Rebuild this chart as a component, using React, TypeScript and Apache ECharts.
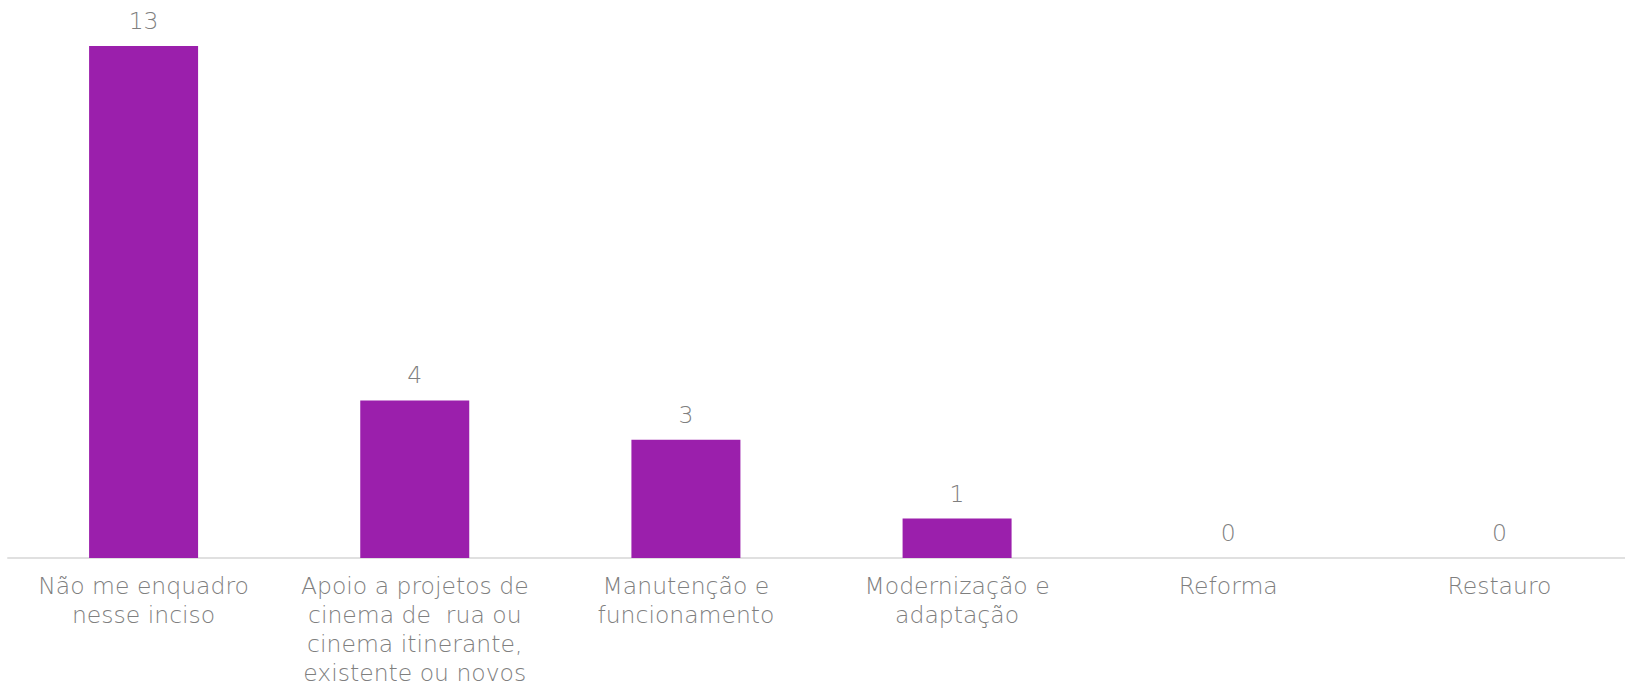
import React, { useEffect, useRef } from "react";
import * as echarts from "echarts";

const categories = [
  "Não me enquadro\nnesse inciso",
  "Apoio a projetos de\ncinema de  rua ou\ncinema itinerante,\nexistente ou novos",
  "Manutenção e\nfuncionamento",
  "Modernização e\nadaptação",
  "Reforma",
  "Restauro",
];
const values = [13, 4, 3, 1, 0, 0];

const TEXT = "#7f7f7f";
const FONT = "'DejaVu Sans', sans-serif";

export default function App() {
  const ref = useRef<HTMLDivElement>(null);
  useEffect(() => {
    document.body.style.margin = "0";
    const chart = echarts.init(ref.current!, null, { renderer: "svg" });
    chart.setOption({
      animation: false,
      grid: {
        left: 8,
        right: -10,
        top: 46,
        bottom: 128,
        containLabel: false,
        outerBoundsMode: "none",
      },
      xAxis: {
        type: "category",
        data: categories,
        axisLine: { show: true, lineStyle: { color: "#e0e0e0", width: 2 } },
        axisTick: { show: false },
        axisLabel: {
          interval: 0,
          color: TEXT,
          fontFamily: FONT,
          fontSize: 23.5,
          fontWeight: 300,
          lineHeight: 29,
          margin: 13,
        },
      },
      yAxis: {
        type: "value",
        min: 0,
        max: 13,
        show: false,
        splitLine: { show: false },
      },
      series: [
        {
          type: "bar",
          data: values,
          barWidth: 109,
          itemStyle: { color: "#9b1fac" },
          label: {
            show: true,
            position: "top",
            distance: 13,
            color: TEXT,
            fontFamily: FONT,
            fontSize: 23.5,
            fontWeight: 300,
          },
        },
      ],
    });
    return () => chart.dispose();
  }, []);
  return (
    <div
      ref={ref}
      style={{ position: "absolute", left: 0, top: 0, width: 1625, height: 686 }}
    />
  );
}
